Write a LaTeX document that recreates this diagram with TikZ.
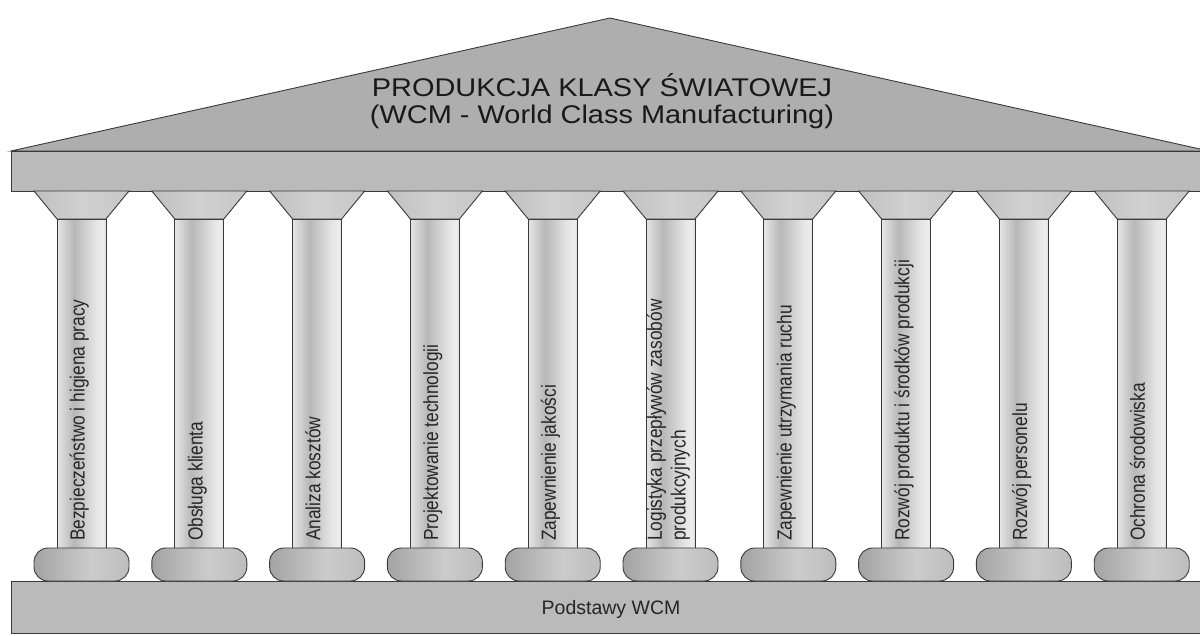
\documentclass[tikz,border=0pt]{standalone}
\usepackage{fontspec}
\setmainfont{Liberation Sans}
\definecolor{roofgray}{HTML}{AEAEAE}
\definecolor{slabgray}{HTML}{BABABA}
\definecolor{edge}{HTML}{3A3A3A}
\pgfdeclarehorizontalshading{shaftshade}{100bp}{color(0bp)=(white!88!black); color(25bp)=(white!90!black); color(42bp)=(white!72!black); color(65bp)=(white!90!black); color(72bp)=(white!93!black); color(75bp)=(white!86!black); color(100bp)=(white!86!black)}
\pgfdeclarehorizontalshading{baseshade}{100bp}{color(0bp)=(white!62!black); color(25bp)=(white!64!black); color(55bp)=(white!80!black); color(75bp)=(white!74!black); color(100bp)=(white!74!black)}
\pgfdeclarehorizontalshading{capshade}{100bp}{color(0bp)=(white!74!black); color(25bp)=(white!75!black); color(50bp)=(white!82!black); color(75bp)=(white!78!black); color(100bp)=(white!78!black)}
\newcommand{\collabtext}[1]{\scalebox{1}[1.18]{\begin{tabular}{@{}l@{}}#1\end{tabular}}}
\tikzset{
  outline/.style={draw=edge, line width=0.9pt, line join=miter},
  roofpart/.style={outline, fill=roofgray},
  slabpart/.style={outline, fill=slabgray},
  cappart/.style={outline, shading=capshade},
  shaftpart/.style={outline, shading=shaftshade},
  basepart/.style={outline, shading=baseshade, rounded corners=14pt},
  collabel/.style={rotate=90, anchor=west, inner sep=0pt,
    font=\fontsize{17.3}{20}\selectfont, text=black!85},
}
\begin{document}
\begin{tikzpicture}[x=1pt,y=-1pt]
\useasboundingbox (0,0) rectangle (1200,635);
\clip (0,0) rectangle (1200,635);
% roof
\path[roofpart] (11,151) -- (610,18) -- (1209,151) -- cycle;
\node[inner sep=0pt, text=black!90] (title) at (602,103)
  {\scalebox{1.13}[1]{\fontsize{25.6}{27}\selectfont\begin{tabular}{@{}c@{}}PRODUKCJA KLASY ŚWIATOWEJ\\(WCM - World Class Manufacturing)\end{tabular}}};
% entablature
\path[slabpart] (11,151) rectangle (1210,191);
% foundation
\path[slabpart] (11,581) rectangle (1210,633);
\node[font=\fontsize{19.5}{22}\selectfont, text=black!85] (base) at (611,609) {Podstawy WCM};
% columns
\foreach \i/\t in {0/{Bezpieczeństwo i higiena pracy},
                   1/{Obsługa klienta},
                   2/{Analiza kosztów},
                   3/{Projektowanie technologii},
                   4/{Zapewnienie jakości},
                   5/{Logistyka przepływów zasobów\\produkcyjnych},
                   6/{Zapewnienie utrzymania ruchu},
                   7/{Rozwój produktu i środków produkcji},
                   8/{Rozwój personelu},
                   9/{Ochrona środowiska}}{
  \pgfmathsetmacro{\c}{81.5+117.8*\i}
  \path[cappart] (\c-47.5,191) -- (\c+47.5,191) -- (\c+24.5,219) -- (\c-24.5,219) -- cycle;
  \path[shaftpart] (\c-24.5,219) rectangle (\c+24.5,548);
  \path[basepart] (\c-47.5,548) rectangle (\c+47.5,581);
  \node[collabel] (lab\i) at (\c-1.5,541) {\collabtext{\t}};
}
\end{tikzpicture}
\end{document}
